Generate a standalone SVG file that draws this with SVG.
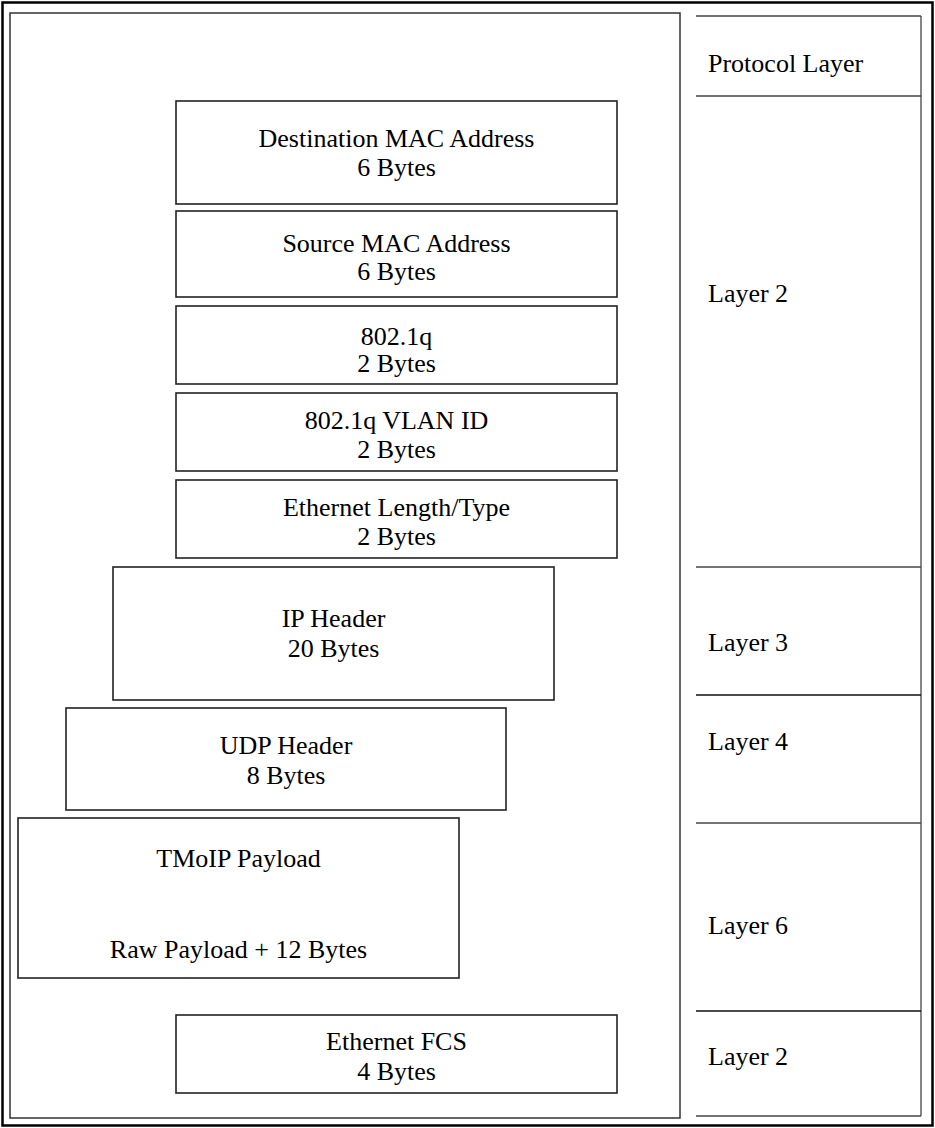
<svg xmlns="http://www.w3.org/2000/svg" width="935" height="1128" viewBox="0 0 935 1128">
  <style>
    .frame { fill: none; stroke: #000; stroke-width: 2.5; }
    .panel { fill: #fff; stroke: #333; stroke-width: 1.5; }
    .field { fill: #fff; stroke: #222; stroke-width: 1.6; }
    .rule { stroke: #444; stroke-width: 1.3; fill: none; }
    .rule-dark { stroke: #111; stroke-width: 1.3; fill: none; }
    text { font-family: "Liberation Serif", "Times New Roman", serif; font-size: 26px; fill: #000; }
    .c { text-anchor: middle; }
  </style>
  <rect width="935" height="1128" fill="#fff"/>
  <!-- outer frame -->
  <rect class="frame" x="2.5" y="2.5" width="930" height="1123"/>
  <!-- frame field stack panel -->
  <rect class="panel" x="10" y="13" width="670" height="1105"/>

  <!-- protocol layer column -->
  <g id="layer-column">
    <g class="rule">
      <line x1="696" y1="16" x2="921" y2="16"/>
      <line x1="921" y1="16" x2="921" y2="1116"/>
      <line x1="696" y1="96" x2="921" y2="96"/>
      <line x1="696" y1="567" x2="921" y2="567"/>
      <line x1="696" y1="823" x2="921" y2="823"/>
      <line x1="696" y1="1116" x2="921" y2="1116"/>
    </g>
    <g class="rule-dark">
      <line x1="696" y1="695" x2="921" y2="695"/>
      <line x1="696" y1="1011" x2="921" y2="1011"/>
    </g>
    <text x="708" y="72">Protocol Layer</text>
    <text x="708" y="302">Layer 2</text>
    <text x="708" y="651">Layer 3</text>
    <text x="708" y="750">Layer 4</text>
    <text x="708" y="934">Layer 6</text>
    <text x="708" y="1065">Layer 2</text>
  </g>

  <g id="connectors"></g>

  <g id="dst-mac">
    <rect class="field" x="176" y="101" width="441" height="103"/>
    <text class="c" x="396.5" y="146.5">Destination MAC Address</text>
    <text class="c" x="396.5" y="176">6 Bytes</text>
  </g>
  <g id="src-mac">
    <rect class="field" x="176" y="211" width="441" height="86"/>
    <text class="c" x="396.5" y="251.5">Source MAC Address</text>
    <text class="c" x="396.5" y="280">6 Bytes</text>
  </g>
  <g id="tpid">
    <rect class="field" x="176" y="306" width="441" height="78"/>
    <text class="c" x="396.5" y="345">802.1q</text>
    <text class="c" x="396.5" y="372">2 Bytes</text>
  </g>
  <g id="vlan-id">
    <rect class="field" x="176" y="393" width="441" height="78"/>
    <text class="c" x="396.5" y="429">802.1q VLAN ID</text>
    <text class="c" x="396.5" y="457.5">2 Bytes</text>
  </g>
  <g id="ethertype">
    <rect class="field" x="176" y="480" width="441" height="78"/>
    <text class="c" x="396.5" y="515.5">Ethernet Length/Type</text>
    <text class="c" x="396.5" y="545">2 Bytes</text>
  </g>
  <g id="ip-header">
    <rect class="field" x="113" y="567" width="441" height="133"/>
    <text class="c" x="333.5" y="626.5">IP Header</text>
    <text class="c" x="333.5" y="656.5">20 Bytes</text>
  </g>
  <g id="udp-header">
    <rect class="field" x="66" y="708" width="440" height="102"/>
    <text class="c" x="286" y="754">UDP Header</text>
    <text class="c" x="286" y="784">8 Bytes</text>
  </g>
  <g id="tmoip-payload">
    <rect class="field" x="18" y="818" width="441" height="160"/>
    <text class="c" x="238.5" y="867">TMoIP Payload</text>
    <text class="c" x="238.5" y="958">Raw Payload + 12 Bytes</text>
  </g>
  <g id="fcs">
    <rect class="field" x="176" y="1015" width="441" height="78"/>
    <text class="c" x="396.5" y="1050">Ethernet FCS</text>
    <text class="c" x="396.5" y="1080">4 Bytes</text>
  </g>
</svg>
